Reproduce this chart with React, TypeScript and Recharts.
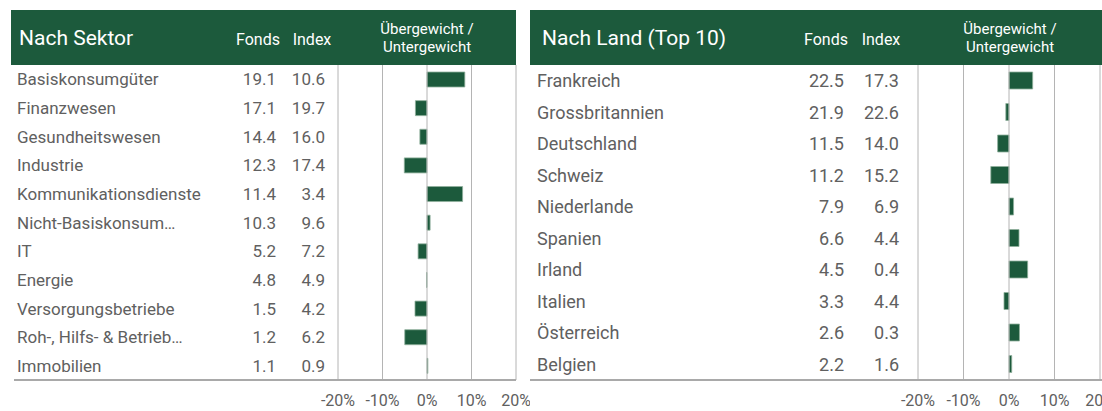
import React from 'react';
import { BarChart, Bar, XAxis, YAxis, ReferenceLine } from 'recharts';

// Nach Sektor
const sectorNames = [
  'Basiskonsumgüter',
  'Finanzwesen',
  'Gesundheitswesen',
  'Industrie',
  'Kommunikationsdienste',
  'Nicht-Basiskonsum…',
  'IT',
  'Energie',
  'Versorgungsbetriebe',
  'Roh-, Hilfs- & Betrieb…',
  'Immobilien',
];
const sectorFonds = [19.1, 17.1, 14.4, 12.3, 11.4, 10.3, 5.2, 4.8, 1.5, 1.2, 1.1];
const sectorIndex = [10.6, 19.7, 16.0, 17.4, 3.4, 9.6, 7.2, 4.9, 4.2, 6.2, 0.9];

// Nach Land (Top 10)
const countryNames = [
  'Frankreich',
  'Grossbritannien',
  'Deutschland',
  'Schweiz',
  'Niederlande',
  'Spanien',
  'Irland',
  'Italien',
  'Österreich',
  'Belgien',
];
const countryFonds = [22.5, 21.9, 11.5, 11.2, 7.9, 6.6, 4.5, 3.3, 2.6, 2.2];
const countryIndex = [17.3, 22.6, 14.0, 15.2, 6.9, 4.4, 0.4, 4.4, 0.3, 1.6];

const axisTicks = [-20, -10, 0, 10, 20];

const GREEN = '#1c5a3c';
const TEXT = '#606060';
const GRID = '#b4b4b4';

type Row = { name: string; fonds: number; index: number; diff: number };

const buildRows = (names: string[], fonds: number[], index: number[]): Row[] =>
  names.map((name, i) => ({
    name,
    fonds: fonds[i],
    index: index[i],
    diff: Math.round((fonds[i] - index[i]) * 10) / 10,
  }));

const sectorRows = buildRows(sectorNames, sectorFonds, sectorIndex);
const countryRows = buildRows(countryNames, countryFonds, countryIndex);

interface PanelProps {
  title: string;
  rows: Row[];
  left: number;
  width: number;
  plotLeft: number; // yaxis width, relative to panel
  marginRight: number;
  fontSize: number;
  barSize: number;
  labelX: number;
  fondsX: number;
  indexX: number;
  fondsHeadX: number;
  indexHeadX: number;
  overHeadX: number;
  headerLeft: number;
  headerWidth: number;
  titleX: number;
  lineLeft: number;
  lineWidth: number;
}

const Panel: React.FC<PanelProps> = (p) => {
  const renderTick = (props: any) => {
    const { y, index, payload } = props;
    const row = p.rows[index] ?? p.rows.find((r) => r.name === payload.value);
    if (!row) return <g />;
    const common = { y, dy: '0.36em', fill: TEXT, fontSize: p.fontSize };
    return (
      <g>
        <text x={p.labelX} {...common}>{row.name}</text>
        <text x={p.fondsX} textAnchor="end" {...common}>{row.fonds.toFixed(1)}</text>
        <text x={p.indexX} textAnchor="end" {...common}>{row.index.toFixed(1)}</text>
      </g>
    );
  };

  return (
    <div style={{ position: 'absolute', left: p.left, top: 0, width: p.width, height: 411 }}>
      <BarChart
        width={p.width}
        height={411}
        data={p.rows}
        layout="vertical"
        margin={{ top: 65, right: p.marginRight, bottom: 0, left: 0 }}
      >
        <XAxis
          type="number"
          domain={[-20, 20]}
          ticks={axisTicks}
          interval={0}
          tickFormatter={(v) => `${v}%`}
          axisLine={false}
          tickLine={false}
          tickMargin={9}
          height={31}
          tick={{ fill: TEXT, fontSize: 16 }}
        />
        <YAxis
          type="category"
          dataKey="name"
          width={p.plotLeft}
          axisLine={false}
          tickLine={false}
          tick={renderTick}
          interval={0}
        />
        {axisTicks.map((t) => (
          <ReferenceLine key={t} x={t} stroke={GRID} strokeWidth={1} />
        ))}
        <Bar
          dataKey="diff"
          fill={GREEN}
          stroke="#8fb09c"
          strokeWidth={0.8}
          barSize={p.barSize}
          isAnimationActive={false}
        />
      </BarChart>

      {/* header band */}
      <div
        style={{
          position: 'absolute',
          left: p.headerLeft,
          top: 10,
          width: p.headerWidth,
          height: 55,
          background: GREEN,
          color: '#fff',
        }}
      >
        <div style={{ position: 'absolute', left: p.titleX - p.headerLeft, top: 15, fontSize: 21, lineHeight: '26px', whiteSpace: 'nowrap' }}>
          {p.title}
        </div>
        <div style={{ position: 'absolute', left: p.fondsHeadX - p.headerLeft - 30, width: 60, top: 20, fontSize: 16, lineHeight: '20px', textAlign: 'center' }}>
          Fonds
        </div>
        <div style={{ position: 'absolute', left: p.indexHeadX - p.headerLeft - 30, width: 60, top: 20, fontSize: 16, lineHeight: '20px', textAlign: 'center' }}>
          Index
        </div>
        <div style={{ position: 'absolute', left: p.overHeadX - p.headerLeft - 60, width: 120, top: 10, fontSize: 15, lineHeight: '18px', textAlign: 'center' }}>
          Übergewicht /<br />Untergewicht
        </div>
      </div>

      {/* bottom rule */}
      <div
        style={{
          position: 'absolute',
          left: p.lineLeft,
          top: 379,
          width: p.lineWidth,
          height: 2,
          background: '#a9a9a9',
        }}
      />
    </div>
  );
};

export default function App() {
  return (
    <div
      style={{
        position: 'absolute',
        left: 0,
        top: 0,
        width: 1102,
        height: 411,
        overflow: 'hidden',
        background: '#fff',
        fontFamily: 'Roboto, "Noto Sans", sans-serif',
      }}
    >
      <Panel
        title="Nach Sektor"
        rows={sectorRows}
        left={0}
        width={530}
        plotLeft={338}
        marginRight={14}
        fontSize={17}
        barSize={15}
        labelX={17}
        fondsX={276}
        indexX={325}
        fondsHeadX={258}
        indexHeadX={312}
        overHeadX={427}
        headerLeft={11}
        headerWidth={505}
        titleX={19}
        lineLeft={14}
        lineWidth={502}
      />
      <Panel
        title="Nach Land (Top 10)"
        rows={countryRows}
        left={530}
        width={572}
        plotLeft={388}
        marginRight={2}
        fontSize={18}
        barSize={17}
        labelX={7}
        fondsX={314}
        indexX={369}
        fondsHeadX={296}
        indexHeadX={351}
        overHeadX={480}
        headerLeft={0}
        headerWidth={580}
        titleX={12}
        lineLeft={0}
        lineWidth={580}
      />
    </div>
  );
}
